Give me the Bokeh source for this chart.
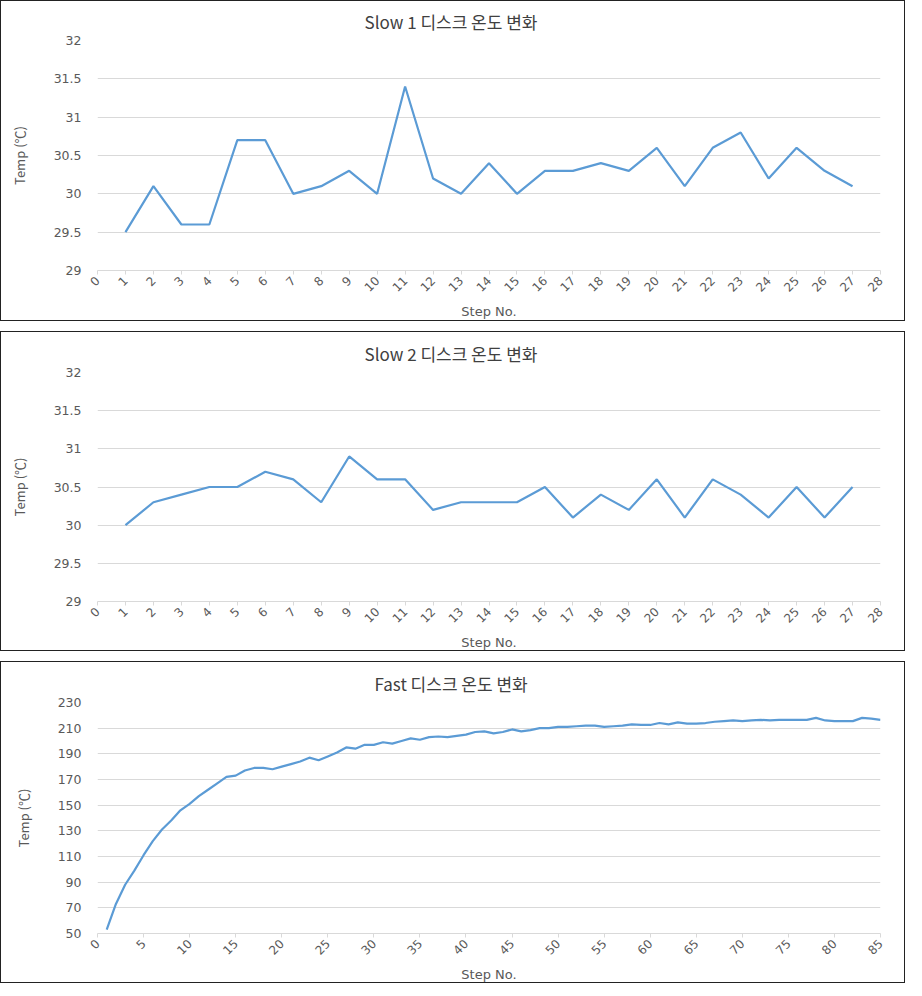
from bokeh.plotting import figure
from bokeh.layouts import column
from bokeh.models import FixedTicker, Title, Range1d
from bokeh.embed import file_html
from bokeh.resources import INLINE

# ---------------- data ----------------
slow1_steps = list(range(1, 28))
slow1_temp = [29.5, 30.1, 29.6, 29.6, 30.7, 30.7, 30.0, 30.1, 30.3, 30.0,
              31.4, 30.2, 30.0, 30.4, 30.0, 30.3, 30.3, 30.4, 30.3, 30.6,
              30.1, 30.6, 30.8, 30.2, 30.6, 30.3, 30.1]

slow2_steps = list(range(1, 28))
slow2_temp = [30.0, 30.3, 30.4, 30.5, 30.5, 30.7, 30.6, 30.3, 30.9, 30.6,
              30.6, 30.2, 30.3, 30.3, 30.3, 30.5, 30.1, 30.4, 30.2, 30.6,
              30.1, 30.6, 30.4, 30.1, 30.5, 30.1, 30.5]

fast_steps = list(range(1, 86))
fast_temp = [53, 73, 88, 99, 111, 122, 131, 138, 146, 151,
             157, 162, 167, 172, 173, 177, 179, 179, 178, 180,
             182, 184, 187, 185, 188, 191, 195, 194, 197, 197,
             199, 198, 200, 202, 201, 203, 203.5, 203, 204, 205,
             207, 207.5, 206, 207, 209, 207.5, 208.5, 210, 210, 211,
             211, 211.5, 212, 212, 211, 211.5, 212, 213, 212.5, 212.5,
             214, 213, 214.5, 213.5, 213.5, 214, 215, 215.5, 216, 215.5,
             216, 216.5, 216, 216.5, 216.5, 216.5, 216.5, 218, 216, 215.5,
             215.5, 215.5, 218, 217.5, 216.5]

slow_x_ticks = list(range(0, 29))
slow_y_ticks = [29, 29.5, 30, 30.5, 31, 31.5, 32]
slow_y_labels = ["29", "29.5", "30", "30.5", "31", "31.5", "32"]
fast_x_ticks = list(range(0, 86, 5))
fast_y_ticks = [50, 70, 90, 110, 130, 150, 170, 190, 210, 230]
fast_y_labels = ["50", "70", "90", "110", "130", "150", "170", "190", "210", "230"]

titles = ["Slow 1 디스크 온도 변화", "Slow 2 디스크 온도 변화", "Fast 디스크 온도 변화"]
x_label = "Step No."
y_label = "Temp (℃)"

LINE = "#5B9BD5"
GRID = "#d9d9d9"
TXT = "#595959"
FONT = "Noto Sans CJK KR"
TICKFONT = "DejaVu Sans"


def make_panel(steps, temps, title, x_ticks, x_max, y_ticks, y_labels,
               y_min, y_max, height, left, top, bottom, title_offset):
    p = figure(width=905, height=height, output_backend="svg",
               toolbar_location=None,
               x_range=Range1d(0, x_max), y_range=Range1d(y_min, y_max),
               min_border_left=left, min_border_right=26,
               min_border_top=top, min_border_bottom=bottom)
    p.styles = {"border": "1px solid #222"}
    p.background_fill_color = "white"
    p.border_fill_color = "white"
    p.outline_line_color = None

    t = Title(text=title, align="left", offset=title_offset, standoff=10,
              vertical_align="top",
              text_font=FONT, text_font_size="17px", text_font_style="normal",
              text_color="#404040")
    p.add_layout(t, "above")

    p.line(steps, temps, line_color=LINE, line_width=2.2)

    p.xgrid.visible = False
    p.ygrid.grid_line_color = GRID
    p.ygrid.grid_line_width = 1

    p.xaxis.ticker = FixedTicker(ticks=x_ticks)
    p.xaxis.major_label_orientation = 0.785398
    p.xaxis.axis_line_color = GRID
    p.xaxis.major_tick_line_color = GRID
    p.xaxis.major_tick_out = 4
    p.xaxis.major_tick_in = 0
    p.xaxis.minor_tick_line_color = None
    p.xaxis.major_label_text_font = TICKFONT
    p.xaxis.major_label_text_font_size = "12px"
    p.xaxis.major_label_text_color = TXT
    p.xaxis.major_label_standoff = 4
    p.xaxis.axis_label = x_label
    p.xaxis.axis_label_text_font = TICKFONT
    p.xaxis.axis_label_text_font_size = "13px"
    p.xaxis.axis_label_text_font_style = "normal"
    p.xaxis.axis_label_text_color = TXT
    p.xaxis.axis_label_standoff = 5

    p.yaxis.ticker = FixedTicker(ticks=y_ticks)
    p.yaxis.major_label_overrides = {float(v): s for v, s in zip(y_ticks, y_labels)}
    p.yaxis.axis_line_color = None
    p.yaxis.major_tick_line_color = None
    p.yaxis.minor_tick_line_color = None
    p.yaxis.major_tick_out = 0
    p.yaxis.major_label_standoff = 16
    p.yaxis.major_label_text_font = TICKFONT
    p.yaxis.major_label_text_font_size = "12.5px"
    p.yaxis.major_label_text_color = TXT
    p.yaxis.axis_label = y_label
    p.yaxis.axis_label_text_font = FONT
    p.yaxis.axis_label_text_font_size = "13px"
    p.yaxis.axis_label_text_font_style = "normal"
    p.yaxis.axis_label_text_color = TXT
    p.yaxis.axis_label_standoff = 22
    return p


p1 = make_panel(slow1_steps, slow1_temp, titles[0], slow_x_ticks, 28,
                slow_y_ticks, slow_y_labels, 29, 32, 321, 96, 39, 52, 267)
p2 = make_panel(slow2_steps, slow2_temp, titles[1], slow_x_ticks, 28,
                slow_y_ticks, slow_y_labels, 29, 32, 320, 96, 40, 50, 267)
p3 = make_panel(fast_steps, fast_temp, titles[2], fast_x_ticks, 85,
                fast_y_ticks, fast_y_labels, 50, 230, 322, 92, 40, 51, 277)

layout = column(p1, p2, p3, spacing=10)

with open("out.html", "w") as f:
    f.write(file_html(layout, INLINE))
